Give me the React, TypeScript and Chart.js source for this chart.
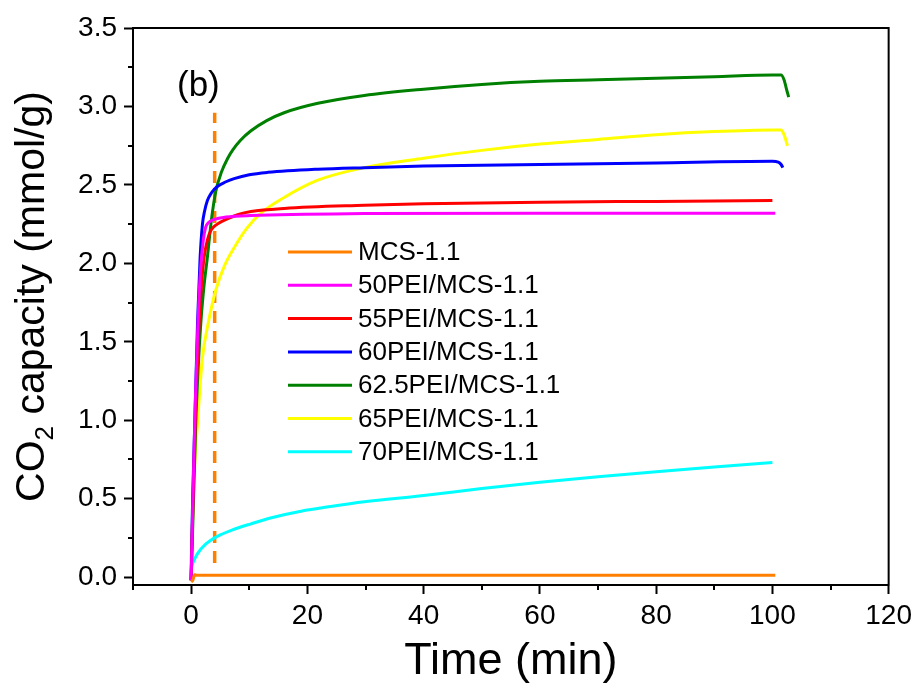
import React, { useEffect, useRef } from "react";
import { Chart, registerables } from "chart.js";

Chart.register(...registerables);

const FONT = "'Liberation Sans', Arial, sans-serif";

const seriesLabels = [
  "MCS-1.1",
  "50PEI/MCS-1.1",
  "55PEI/MCS-1.1",
  "60PEI/MCS-1.1",
  "62.5PEI/MCS-1.1",
  "65PEI/MCS-1.1",
  "70PEI/MCS-1.1",
];
const seriesColors = ["#FF8000", "#FF00FF", "#FF0000", "#0000FF", "#008000", "#FFFF00", "#00FFFF"];

const mcsT = [0, 0.3, 0.6, 1, 20, 40, 60, 80, 100.5];
const mcsV = [-0.03, -0.02, 0.015, 0.012, 0.012, 0.012, 0.012, 0.012, 0.012];

const pei50T = [0, 0.3, 0.7, 1.2, 1.6, 2.1, 2.5, 3, 4, 6, 10.3, 29.8, 60, 100.5];
const pei50V = [-0.02, 0.5, 1.1, 1.65, 1.95, 2.15, 2.23, 2.26, 2.28, 2.295, 2.305, 2.317, 2.32, 2.32];

const pei55T = [0, 0.3, 0.8, 1.38, 1.8, 2.24, 2.8, 3.4, 4.5, 6.3, 8, 10.3, 16, 29.8, 40, 60, 80, 100];
const pei55V = [-0.02, 0.45, 1.1, 1.62, 1.87, 2.04, 2.15, 2.21, 2.25, 2.285, 2.31, 2.33, 2.35, 2.37, 2.38, 2.39, 2.395, 2.4];

const pei60T = [0, 0.05, 0.3, 0.63, 1.1, 1.55, 1.95, 2.3, 2.8, 3.5, 4.5, 6, 7.4, 10, 13.2, 21.8, 29.8, 40, 60, 80, 100, 101, 101.5, 101.8];
const pei60V = [-0.02, 0.13, 0.55, 0.98, 1.62, 2.04, 2.25, 2.33, 2.4, 2.45, 2.49, 2.52, 2.54, 2.565, 2.58, 2.6, 2.61, 2.62, 2.63, 2.64, 2.65, 2.645, 2.63, 2.61];

const pei625T = [0, 0.3, 0.8, 1.2, 1.67, 2.2, 2.8, 3.5, 4.25, 5.2, 6.3, 7.2, 8.5, 10.3, 13, 16, 21.8, 29.8, 40, 50, 60, 70, 80, 90, 100, 101.5, 102, 102.5, 102.8];
const pei625V = [-0.02, 0.35, 0.98, 1.32, 1.62, 1.85, 2.04, 2.28, 2.46, 2.58, 2.67, 2.725, 2.785, 2.845, 2.91, 2.96, 3.02, 3.07, 3.11, 3.14, 3.16, 3.17, 3.18, 3.19, 3.2, 3.2, 3.17, 3.1, 3.06];

const pei65T = [0, 0.23, 0.69, 1.1, 1.5, 1.95, 3, 4.25, 5.8, 7.4, 9.5, 12, 16, 21.8, 29.8, 40, 50, 60, 70, 80, 90, 100, 101.5, 102, 102.6];
const pei65V = [-0.02, 0.34, 0.77, 0.98, 1.2, 1.4, 1.63, 1.83, 1.99, 2.1, 2.22, 2.32, 2.42, 2.53, 2.61, 2.67, 2.72, 2.76, 2.79, 2.82, 2.84, 2.85, 2.85, 2.82, 2.75];

const pei70T = [0, 0.04, 0.3, 1.1, 2.5, 4.5, 7, 10.3, 14, 18.9, 24, 29.8, 40, 50, 60, 70, 80, 90, 100];
const pei70V = [-0.02, 0.04, 0.09, 0.15, 0.21, 0.26, 0.3, 0.34, 0.38, 0.42, 0.45, 0.48, 0.52, 0.565, 0.605, 0.64, 0.672, 0.702, 0.73];

const markerT = [4.05, 4.05];
const markerV = [0.09, 2.96];

const seriesT = [mcsT, pei50T, pei55T, pei60T, pei625T, pei65T, pei70T];
const seriesV = [mcsV, pei50V, pei55V, pei60V, pei625V, pei65V, pei70V];

const xMajorTicks = [0, 20, 40, 60, 80, 100, 120];
const xMinorTicks = [-10, 10, 30, 50, 70, 90, 110];
const yMajorTicks = [0, 0.5, 1, 1.5, 2, 2.5, 3, 3.5];
const yMinorTicks = [0.25, 0.75, 1.25, 1.75, 2.25, 2.75, 3.25];

const xTitle = "Time (min)";
const yTitleMain = "CO";
const yTitleSub = "2";
const yTitleRest = " capacity (mmol/g)";
const panelLabel = "(b)";

const toPts = (t: number[], v: number[]) => t.map((x, i) => ({ x, y: v[i] }));

const decorPlugin = {
  id: "decor",
  afterDraw(chart: any) {
    const { ctx, chartArea, scales } = chart;
    const xs = scales.x;
    const ys = scales.y;
    ctx.save();
    ctx.strokeStyle = "#000";
    ctx.lineWidth = 2;
    ctx.strokeRect(chartArea.left, chartArea.top, chartArea.right - chartArea.left, chartArea.bottom - chartArea.top);
    ctx.beginPath();
    yMinorTicks.forEach((v) => {
      const py = Math.round(ys.getPixelForValue(v));
      ctx.moveTo(chartArea.left, py);
      ctx.lineTo(chartArea.left - 5, py);
    });
    xMinorTicks.forEach((v) => {
      const px = Math.round(xs.getPixelForValue(v));
      ctx.moveTo(px, chartArea.bottom);
      ctx.lineTo(px, chartArea.bottom + 5);
    });
    ctx.stroke();

    ctx.fillStyle = "#000";
    ctx.save();
    ctx.translate(33, (chartArea.top + chartArea.bottom) / 2 - 10);
    ctx.rotate(-Math.PI / 2);
    ctx.textBaseline = "middle";
    const big = `41px ${FONT}`;
    const small = `26px ${FONT}`;
    ctx.font = big;
    const w1 = ctx.measureText(yTitleMain).width;
    const w3 = ctx.measureText(yTitleRest).width;
    ctx.font = small;
    const w2 = ctx.measureText(yTitleSub).width;
    const total = w1 + w2 + w3;
    const x0 = -total / 2;
    ctx.font = big;
    ctx.textAlign = "left";
    ctx.fillText(yTitleMain, x0, 0);
    ctx.font = small;
    ctx.fillText(yTitleSub, x0 + w1, 13);
    ctx.font = big;
    ctx.fillText(yTitleRest, x0 + w1 + w2, 0);
    ctx.restore();

    ctx.font = `35px ${FONT}`;
    ctx.textAlign = "left";
    ctx.textBaseline = "middle";
    ctx.fillText(panelLabel, 177, 86);

    ctx.font = `26px ${FONT}`;
    seriesLabels.forEach((lab, i) => {
      const y = 252 + i * 33.3;
      ctx.strokeStyle = seriesColors[i];
      ctx.lineWidth = 3;
      ctx.beginPath();
      ctx.moveTo(288, y);
      ctx.lineTo(352, y);
      ctx.stroke();
      ctx.fillStyle = "#000";
      ctx.fillText(lab, 358, y + 1);
    });
    ctx.restore();
  },
};

export default function App() {
  const ref = useRef<HTMLCanvasElement | null>(null);
  useEffect(() => {
    if (!ref.current) return;
    const datasets: any[] = seriesLabels.map((lab, i) => ({
      label: lab,
      data: toPts(seriesT[i], seriesV[i]),
      borderColor: seriesColors[i],
      backgroundColor: seriesColors[i],
      borderWidth: 3,
      pointRadius: 0,
      showLine: true,
      cubicInterpolationMode: "monotone",
      fill: false,
    }));
    datasets.push({
      label: "marker",
      data: toPts(markerT, markerV),
      borderColor: seriesColors[0],
      borderWidth: 3.5,
      borderDash: [12, 8],
      pointRadius: 0,
      showLine: true,
      fill: false,
    });
    const chart = new Chart(ref.current, {
      type: "scatter",
      data: { datasets },
      plugins: [decorPlugin],
      options: {
        animation: false,
        responsive: true,
        maintainAspectRatio: false,
        layout: { padding: { left: 0, right: 28, top: 28, bottom: 0 } },
        plugins: { legend: { display: false }, tooltip: { enabled: false } },
        scales: {
          x: {
            type: "linear",
            min: -10,
            max: 120,
            afterBuildTicks: (s: any) => {
              s.ticks = xMajorTicks.map((v) => ({ value: v }));
            },
            afterFit: (s: any) => {
              s.height = 105;
            },
            grid: { drawOnChartArea: false, drawTicks: true, tickLength: 9, tickWidth: 2, tickColor: "#000" },
            border: { display: true, color: "#000", width: 2 },
            ticks: { color: "#000", font: { family: FONT, size: 28 }, padding: 5, maxRotation: 0, autoSkip: false },
            title: { display: true, text: xTitle, color: "#000", font: { family: FONT, size: 45 }, padding: { top: 0, bottom: 1 } },
          },
          y: {
            type: "linear",
            min: -0.05,
            max: 3.5,
            afterBuildTicks: (s: any) => {
              s.ticks = yMajorTicks.map((v) => ({ value: v }));
            },
            afterFit: (s: any) => {
              s.width = 133;
            },
            grid: { drawOnChartArea: false, drawTicks: true, tickLength: 9, tickWidth: 2, tickColor: "#000" },
            border: { display: true, color: "#000", width: 2 },
            ticks: {
              color: "#000",
              font: { family: FONT, size: 28 },
              padding: 7,
              autoSkip: false,
              callback: (v: any) => Number(v).toFixed(1),
            },
          },
        },
      },
    });
    return () => chart.destroy();
  }, []);
  return (
    <div style={{ position: "fixed", left: 0, top: 0, width: 917, height: 690, background: "#fff" }}>
      <canvas ref={ref} />
    </div>
  );
}
